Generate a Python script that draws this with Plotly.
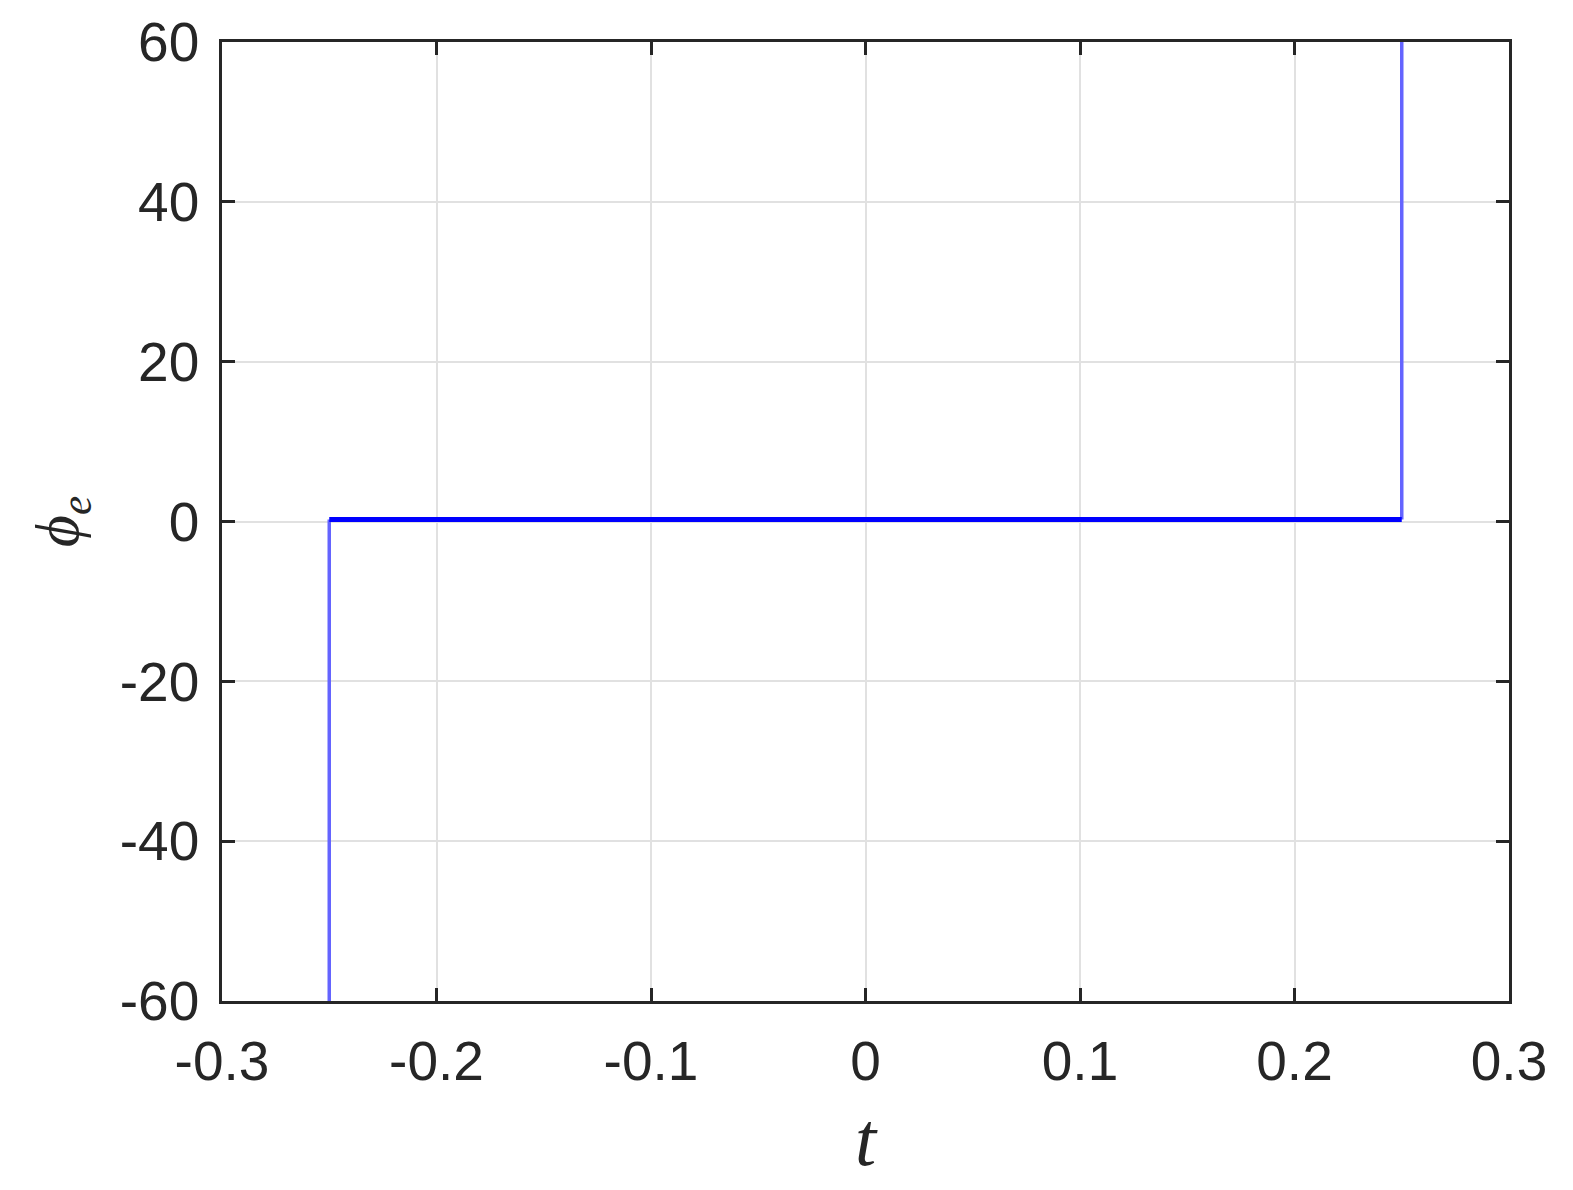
import plotly.graph_objects as go

# step response of phi_e versus t
t_left = [-0.25, -0.25]
phi_left = [-60, 0.25]
t_mid = [-0.25, 0.25]
phi_mid = [0.25, 0.25]
t_right = [0.25, 0.25]
phi_right = [0.25, 60]

x_ticks = [-0.3, -0.2, -0.1, 0, 0.1, 0.2, 0.3]
x_labels = ['-0.3', '-0.2', '-0.1', '0', '0.1', '0.2', '0.3']
y_ticks = [-60, -40, -20, 0, 20, 40, 60]
y_labels = ['-60', '-40', '-20', '0', '20', '40', '60']

AXIS_COLOR = '#262626'
GRID_COLOR = '#e1e1e1'
TICK_FONT = dict(family='Liberation Sans, Arial', size=55, color=AXIS_COLOR)

fig = go.Figure()

fig.add_trace(go.Scatter(x=t_left, y=phi_left, mode='lines',
                         line=dict(color='#6464ff', width=3.5), showlegend=False))
fig.add_trace(go.Scatter(x=t_right, y=phi_right, mode='lines',
                         line=dict(color='#6464ff', width=3.5), showlegend=False))
fig.add_trace(go.Scatter(x=t_mid, y=phi_mid, mode='lines',
                         line=dict(color='#0000ff', width=5), showlegend=False))

# the page adds ~8px body margin, so margins are shifted to compensate
fig.update_layout(
    width=1573, height=1190,
    margin=dict(l=214, r=72, t=34, b=197),
    plot_bgcolor='white', paper_bgcolor='white',
    xaxis=dict(
        range=[-0.3, 0.3], tickvals=x_ticks, ticktext=x_labels,
        showgrid=True, gridcolor=GRID_COLOR, gridwidth=1.5,
        zeroline=False, showline=True, linecolor=AXIS_COLOR, linewidth=2.5,
        mirror='allticks', ticks='inside', ticklen=13, tickwidth=2.5,
        tickcolor=AXIS_COLOR, tickfont=TICK_FONT, ticklabelstandoff=10,
        automargin=False,
        title=dict(text='<i>t</i>', standoff=22,
                   font=dict(family='Liberation Serif, Times New Roman', size=76,
                             color=AXIS_COLOR)),
    ),
    yaxis=dict(
        range=[-60, 60], tickvals=y_ticks, ticktext=y_labels,
        showgrid=True, gridcolor=GRID_COLOR, gridwidth=1.5,
        zeroline=False, showline=True, linecolor=AXIS_COLOR, linewidth=2.5,
        mirror='allticks', ticks='inside', ticklen=13, tickwidth=2.5,
        tickcolor=AXIS_COLOR, tickfont=TICK_FONT, ticklabelstandoff=9,
        automargin=False,
        title=dict(text='<i>ϕ<sub>e</sub></i>', standoff=22,
                   font=dict(family='Liberation Serif, Times New Roman', size=62,
                             color=AXIS_COLOR)),
    ),
)

fig.write_html("out.html")
